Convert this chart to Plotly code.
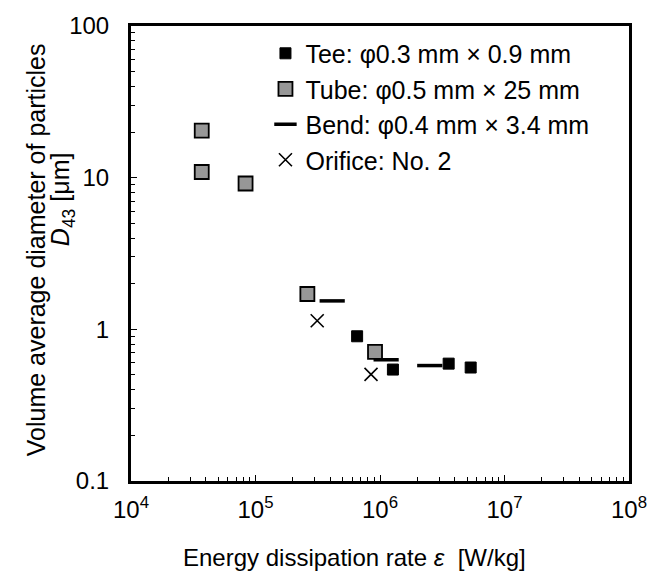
import plotly.graph_objects as go

# Energy dissipation rate [W/kg] and D43 [um] for each device
tee_eps = [6.55e5, 1.27e6, 3.56e6, 5.35e6]
tee_d43 = [0.90, 0.543, 0.594, 0.56]

tube_eps = [3.70e4, 3.70e4, 8.32e4, 2.61e5, 9.12e5]
tube_d43 = [20.4, 10.9, 9.15, 1.71, 0.711]

bend_eps = [4.13e5, 1.12e6, 2.51e6]
bend_d43 = [1.54, 0.63, 0.577]

orifice_eps = [3.13e5, 8.47e5]
orifice_d43 = [1.14, 0.505]

x_tickvals = [1e4, 1e5, 1e6, 1e7, 1e8]
x_ticktext = ["10<sup>4</sup>", "10<sup>5</sup>", "10<sup>6</sup>", "10<sup>7</sup>", "10<sup>8</sup>"]
y_tickvals = [0.1, 1, 10, 100]
y_ticktext = ["0.1", "1", "10", "100"]

# minor ticks at 2..9 within every decade
x_minor = [k * 10 ** n for n in range(4, 8) for k in range(2, 10)]
y_minor = [k * 10.0 ** n for n in range(-1, 2) for k in range(2, 10)]

FONT = "Liberation Sans, Arial, sans-serif"
FS = 24

fig = go.Figure()
fig.add_trace(go.Scatter(
    x=tee_eps, y=tee_d43, mode="markers", name="Tee: φ0.3 mm × 0.9 mm",
    marker=dict(symbol="square", size=11, color="black",
                line=dict(color="black", width=1)),
))
fig.add_trace(go.Scatter(
    x=tube_eps, y=tube_d43, mode="markers", name="Tube: φ0.5 mm × 25 mm",
    marker=dict(symbol="square", size=14, color="#979797",
                line=dict(color="black", width=1.8)),
))
fig.add_trace(go.Scatter(
    x=bend_eps, y=bend_d43, mode="markers", name="Bend: φ0.4 mm × 3.4 mm",
    marker=dict(symbol="line-ew", size=18, color="black",
                line=dict(color="black", width=3.5)),
))
fig.add_trace(go.Scatter(
    x=orifice_eps, y=orifice_d43, mode="markers", name="Orifice: No. 2",
    marker=dict(symbol="x-thin", size=13, color="black",
                line=dict(color="black", width=1.6)),
))

axis_common = dict(
    type="log", showgrid=False, zeroline=False,
    showline=True, linecolor="black", linewidth=3, mirror=True,
    ticks="inside", ticklen=6, tickwidth=1.2, tickcolor="black",
    tickfont=dict(family=FONT, size=FS, color="black"),
)

fig.update_xaxes(
    **axis_common,
    range=[4, 8], tickvals=x_tickvals, ticktext=x_ticktext,
    ticklabelstandoff=5,
    minor=dict(tickvals=x_minor, ticks="inside", ticklen=4, tickwidth=1.2,
               tickcolor="black", showgrid=False),
)
fig.update_yaxes(
    **axis_common,
    range=[-1, 2], tickvals=y_tickvals, ticktext=y_ticktext,
    ticklabelstandoff=14,
    minor=dict(tickvals=y_minor, ticks="inside", ticklen=4, tickwidth=1.2,
               tickcolor="black", showgrid=False),
)

fig.update_layout(
    width=659, height=584,
    margin=dict(l=131, r=28, t=16, b=103),
    plot_bgcolor="white", paper_bgcolor="white",
    font=dict(family=FONT, size=FS, color="black"),
    showlegend=True,
    legend=dict(
        x=0.27, y=0.99, xanchor="left", yanchor="top",
        bgcolor="rgba(0,0,0,0)", borderwidth=0,
        font=dict(family=FONT, size=25, color="black"),
        traceorder="normal",
    ),
    annotations=[
        dict(text="Volume average diameter of particles",
             xref="paper", yref="paper", x=-0.192, y=0.508,
             xanchor="center", yanchor="middle", textangle=-90, showarrow=False,
             font=dict(family=FONT, size=25, color="black")),
        dict(text="<i>D</i><sub>43</sub> [μm]",
             xref="paper", yref="paper", x=-0.138, y=0.62,
             xanchor="center", yanchor="middle", textangle=-90, showarrow=False,
             font=dict(family=FONT, size=25, color="black")),
        dict(text="Energy dissipation rate <i>ε</i>  [W/kg]",
             xref="paper", yref="paper", x=0.448, y=-0.168,
             xanchor="center", yanchor="middle", showarrow=False,
             font=dict(family=FONT, size=FS, color="black")),
    ],
)

fig.write_html("out.html")
